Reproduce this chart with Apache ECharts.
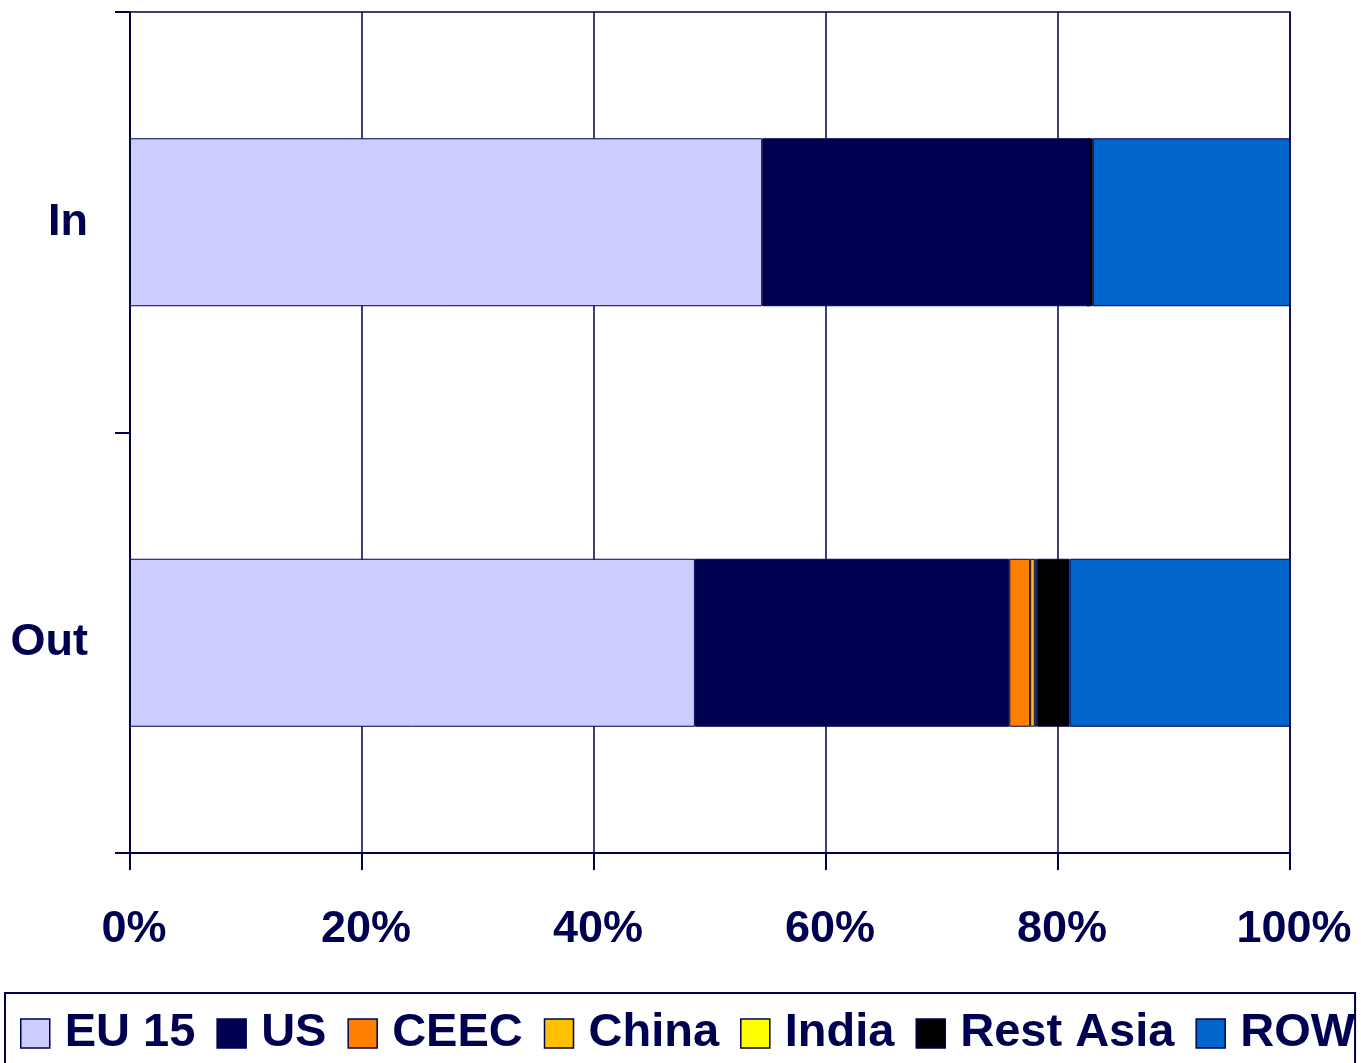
<!DOCTYPE html>
<html>
<head>
<meta charset="utf-8">
<title>In / Out by region</title>
<script src="https://cdn.jsdelivr.net/npm/echarts@6/dist/echarts.min.js"></script>
<style>
  html, body { margin: 0; padding: 0; background: #fff; }
  #chart { width: 1361px; height: 1063px; }
</style>
</head>
<body>
<div id="chart"></div>
<script>
// categories (top to bottom)
const categories = ['In', 'Out']

// shares in percent
const eu15 = [54.5, 48.7]
const us = [28.1, 27.1]
const ceec = [0, 1.8]
const china = [0, 0.4]
const india = [0, 0.2]
const restAsia = [0.4, 2.8]
const row = [17.0, 19.0]

const navy = '#000050'
const labelFont = 'Liberation Sans, Arial, sans-serif'

const seriesDefs = [
  { name: 'EU 15', data: eu15, color: '#CCCCFF' },
  { name: 'US', data: us, color: '#000050' },
  { name: 'CEEC', data: ceec, color: '#FF8000' },
  { name: 'China', data: china, color: '#FFC000' },
  { name: 'India', data: india, color: '#FFFF00' },
  { name: 'Rest Asia', data: restAsia, color: '#000000' },
  { name: 'ROW', data: row, color: '#0066CC' }
]

const chart = echarts.init(document.getElementById('chart'))

const option = {
  animation: false,
  backgroundColor: '#fff',
  grid: {
    left: 130,
    right: 71,
    top: 12,
    bottom: 210,
    show: true,
    borderColor: navy,
    borderWidth: 1.5
  },
  legend: {
    left: 5,
    top: 993,
    width: 1400,
    padding: [17, 0, 14, 15],
    borderColor: navy,
    borderWidth: 2,
    icon: 'rect',
    itemWidth: 29,
    itemHeight: 29,
    itemGap: 21,
    itemStyle: { borderColor: navy, borderWidth: 1.5 },
    textStyle: {
      fontFamily: labelFont,
      fontWeight: 'bold',
      fontSize: 47,
      color: navy,
      padding: [0, 0, 0, 10]
    },
    data: seriesDefs.map(s => s.name)
  },
  xAxis: {
    type: 'value',
    min: 0,
    max: 100,
    interval: 20,
    axisLine: { show: true, lineStyle: { color: navy, width: 2 } },
    axisTick: { show: true, length: 17, lineStyle: { color: navy, width: 2 } },
    splitLine: { show: true, lineStyle: { color: navy, width: 1.5 } },
    axisLabel: {
      formatter: '{value}%',
      fontFamily: labelFont,
      fontWeight: 'bold',
      fontSize: 45,
      color: navy,
      margin: 54,
      padding: [0, 0, 0, 8]
    }
  },
  yAxis: {
    type: 'category',
    inverse: true,
    data: categories,
    axisLine: { show: true, lineStyle: { color: navy, width: 2 } },
    axisTick: { show: true, length: 15, lineStyle: { color: navy, width: 2 } },
    axisLabel: {
      fontFamily: labelFont,
      fontWeight: 'bold',
      fontSize: 45,
      color: navy,
      margin: 42
    }
  },
  series: seriesDefs.map(s => ({
    name: s.name,
    type: 'bar',
    stack: 'total',
    barWidth: 168,
    data: s.data,
    itemStyle: { color: s.color, borderColor: navy, borderWidth: 1 },
    emphasis: { disabled: true }
  }))
}

chart.setOption(option)
</script>
</body>
</html>
